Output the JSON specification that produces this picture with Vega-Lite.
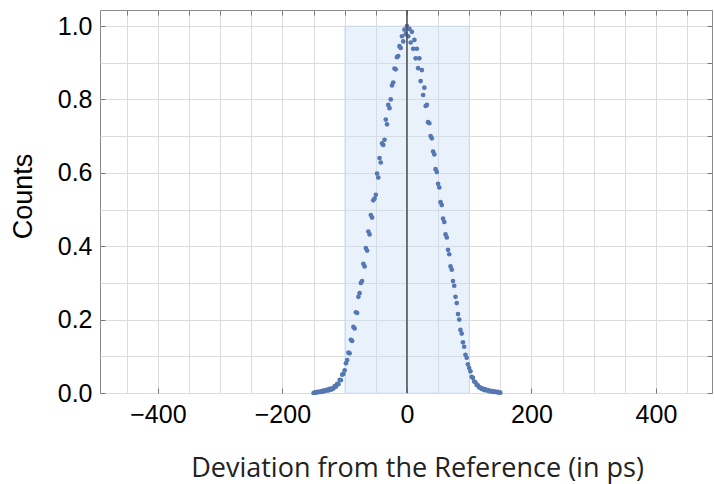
{
  "$schema": "https://vega.github.io/schema/vega-lite/v6.json",
  "width": 612,
  "height": 383,
  "autosize": {"type": "none"},
  "padding": {"left": 100, "top": 10, "right": 2, "bottom": 91},
  "background": "white",
  "config": {
    "view": {"stroke": "#8a8a8a", "strokeWidth": 1},
    "axis": {
      "labelFont": "Liberation Sans",
      "labelFontSize": 25,
      "labelColor": "#000000",
      "labelOverlap": false,
      "gridColor": "#dcdcdc",
      "gridWidth": 1,
      "domain": false,
      "tickColor": "#777777",
      "titleColor": "#000000",
      "titleFontWeight": "normal"
    }
  },
  "datasets": {
    "pts": [
      {"dev": -150, "counts": 0.000}, {"dev": -148, "counts": 0.002}, {"dev": -146, "counts": 0.001}, {"dev": -144, "counts": 0.003},
      {"dev": -142, "counts": 0.002}, {"dev": -140, "counts": 0.004}, {"dev": -138, "counts": 0.003}, {"dev": -136, "counts": 0.006},
      {"dev": -134, "counts": 0.004}, {"dev": -132, "counts": 0.007}, {"dev": -130, "counts": 0.006}, {"dev": -128, "counts": 0.009},
      {"dev": -126, "counts": 0.007}, {"dev": -124, "counts": 0.011}, {"dev": -122, "counts": 0.009}, {"dev": -120, "counts": 0.013},
      {"dev": -118, "counts": 0.012}, {"dev": -116, "counts": 0.019}, {"dev": -114, "counts": 0.017}, {"dev": -112, "counts": 0.025},
      {"dev": -110, "counts": 0.024}, {"dev": -108, "counts": 0.036}, {"dev": -106, "counts": 0.035}, {"dev": -104, "counts": 0.050},
      {"dev": -102, "counts": 0.052}, {"dev": -100, "counts": 0.062}, {"dev": -98, "counts": 0.081}, {"dev": -96, "counts": 0.090},
      {"dev": -94, "counts": 0.110}, {"dev": -92, "counts": 0.108}, {"dev": -90, "counts": 0.145}, {"dev": -88, "counts": 0.142},
      {"dev": -86, "counts": 0.180}, {"dev": -84, "counts": 0.176}, {"dev": -82, "counts": 0.220}, {"dev": -80, "counts": 0.218},
      {"dev": -78, "counts": 0.262}, {"dev": -76, "counts": 0.272}, {"dev": -74, "counts": 0.300}, {"dev": -72, "counts": 0.305},
      {"dev": -70, "counts": 0.352}, {"dev": -68, "counts": 0.345}, {"dev": -66, "counts": 0.395}, {"dev": -64, "counts": 0.388},
      {"dev": -62, "counts": 0.440}, {"dev": -60, "counts": 0.432}, {"dev": -58, "counts": 0.485}, {"dev": -56, "counts": 0.478},
      {"dev": -54, "counts": 0.525}, {"dev": -52, "counts": 0.530}, {"dev": -50, "counts": 0.540}, {"dev": -48, "counts": 0.598},
      {"dev": -46, "counts": 0.587}, {"dev": -44, "counts": 0.640}, {"dev": -42, "counts": 0.628}, {"dev": -40, "counts": 0.680},
      {"dev": -38, "counts": 0.676}, {"dev": -36, "counts": 0.690}, {"dev": -34, "counts": 0.745}, {"dev": -32, "counts": 0.732},
      {"dev": -30, "counts": 0.785}, {"dev": -28, "counts": 0.776}, {"dev": -26, "counts": 0.800}, {"dev": -24, "counts": 0.838},
      {"dev": -22, "counts": 0.846}, {"dev": -20, "counts": 0.884}, {"dev": -18, "counts": 0.882}, {"dev": -16, "counts": 0.915},
      {"dev": -14, "counts": 0.918}, {"dev": -12, "counts": 0.945}, {"dev": -10, "counts": 0.940}, {"dev": -8, "counts": 0.972},
      {"dev": -6, "counts": 0.958}, {"dev": -4, "counts": 0.990}, {"dev": -2, "counts": 0.978}, {"dev": 0, "counts": 1.000},
      {"dev": 2, "counts": 0.972}, {"dev": 4, "counts": 0.992}, {"dev": 6, "counts": 0.955}, {"dev": 8, "counts": 0.984},
      {"dev": 10, "counts": 0.938}, {"dev": 12, "counts": 0.962}, {"dev": 14, "counts": 0.912}, {"dev": 16, "counts": 0.938},
      {"dev": 18, "counts": 0.885}, {"dev": 20, "counts": 0.912}, {"dev": 22, "counts": 0.850}, {"dev": 24, "counts": 0.880},
      {"dev": 26, "counts": 0.812}, {"dev": 28, "counts": 0.832}, {"dev": 30, "counts": 0.782}, {"dev": 32, "counts": 0.785},
      {"dev": 34, "counts": 0.738}, {"dev": 36, "counts": 0.735}, {"dev": 38, "counts": 0.700}, {"dev": 40, "counts": 0.694},
      {"dev": 42, "counts": 0.658}, {"dev": 44, "counts": 0.650}, {"dev": 46, "counts": 0.610}, {"dev": 48, "counts": 0.602},
      {"dev": 50, "counts": 0.570}, {"dev": 52, "counts": 0.560}, {"dev": 54, "counts": 0.520}, {"dev": 56, "counts": 0.512},
      {"dev": 58, "counts": 0.475}, {"dev": 60, "counts": 0.466}, {"dev": 62, "counts": 0.432}, {"dev": 64, "counts": 0.424},
      {"dev": 66, "counts": 0.390}, {"dev": 68, "counts": 0.378}, {"dev": 70, "counts": 0.345}, {"dev": 72, "counts": 0.336},
      {"dev": 74, "counts": 0.305}, {"dev": 76, "counts": 0.292}, {"dev": 78, "counts": 0.262}, {"dev": 80, "counts": 0.245},
      {"dev": 82, "counts": 0.215}, {"dev": 84, "counts": 0.200}, {"dev": 86, "counts": 0.172}, {"dev": 88, "counts": 0.162},
      {"dev": 90, "counts": 0.138}, {"dev": 92, "counts": 0.126}, {"dev": 94, "counts": 0.104}, {"dev": 96, "counts": 0.096},
      {"dev": 98, "counts": 0.078}, {"dev": 100, "counts": 0.068}, {"dev": 102, "counts": 0.059}, {"dev": 104, "counts": 0.044},
      {"dev": 106, "counts": 0.041}, {"dev": 108, "counts": 0.031}, {"dev": 110, "counts": 0.029}, {"dev": 112, "counts": 0.022},
      {"dev": 114, "counts": 0.021}, {"dev": 116, "counts": 0.015}, {"dev": 118, "counts": 0.015}, {"dev": 120, "counts": 0.011},
      {"dev": 122, "counts": 0.012}, {"dev": 124, "counts": 0.008}, {"dev": 126, "counts": 0.010}, {"dev": 128, "counts": 0.007},
      {"dev": 130, "counts": 0.008}, {"dev": 132, "counts": 0.005}, {"dev": 134, "counts": 0.006}, {"dev": 136, "counts": 0.004},
      {"dev": 138, "counts": 0.005}, {"dev": 140, "counts": 0.003}, {"dev": 142, "counts": 0.004}, {"dev": 144, "counts": 0.002},
      {"dev": 146, "counts": 0.003}, {"dev": 148, "counts": 0.001}, {"dev": 150, "counts": 0.001}
    ],
    "band": [{"lo": -100, "hi": 100, "bottom": 0, "top": 1.0}],
    "zero": [{"dev": 0}]
  },
  "resolve": {"axis": {"x": "independent", "y": "independent"}},
  "layer": [
    {
      "data": {"name": "band"},
      "mark": {"type": "rect", "fill": "#c9ddf3", "fillOpacity": 0.4, "stroke": "#c9ddf3", "strokeOpacity": 0.6, "strokeWidth": 1},
      "encoding": {
        "x": {
          "field": "lo", "type": "quantitative",
          "scale": {"domain": [-493, 490], "nice": false, "zero": false},
          "axis": {
            "orient": "top",
            "values": [-450, -400, -350, -300, -250, -200, -150, -100, -50, 0, 50, 100, 150, 200, 250, 300, 350, 400, 450],
            "grid": true,
            "labels": false,
            "ticks": true,
            "tickSize": -5,
            "title": null
          }
        },
        "x2": {"field": "hi"},
        "y": {
          "field": "bottom", "type": "quantitative",
          "scale": {"domain": [0, 1.0436], "nice": false, "zero": false},
          "axis": {
            "orient": "right",
            "values": [0, 0.1, 0.2, 0.3, 0.4, 0.5, 0.6, 0.7, 0.8, 0.9, 1.0],
            "grid": true,
            "labels": false,
            "ticks": true,
            "tickSize": -5,
            "title": null
          }
        },
        "y2": {"field": "top"}
      }
    },
    {
      "data": {"name": "pts"},
      "mark": {"type": "point", "filled": true, "size": 22, "color": "#5577b3", "opacity": 1},
      "encoding": {
        "x": {
          "field": "dev", "type": "quantitative",
          "axis": {
            "orient": "bottom",
            "values": [-400, -200, 0, 200, 400],
            "grid": false,
            "ticks": true,
            "tickSize": -5,
            "labelPadding": 14,
            "labelFlush": false,
            "title": "Deviation from the Reference (in ps)",
            "titleFont": "Open Sans",
            "titleFontSize": 27,
            "titleColor": "#222222",
            "titlePadding": 28,
            "titleX": 317
          }
        },
        "y": {
          "field": "counts", "type": "quantitative",
          "axis": {
            "orient": "left",
            "values": [0, 0.2, 0.4, 0.6, 0.8, 1.0],
            "format": ".1f",
            "grid": false,
            "ticks": true,
            "tickSize": -5,
            "labelPadding": 13,
            "labelFlush": false,
            "title": "Counts",
            "titleFont": "Liberation Sans",
            "titleFontSize": 27,
            "titlePadding": 20,
            "titleY": 186
          }
        }
      }
    },
    {
      "data": {"name": "zero"},
      "mark": {"type": "rule", "color": "#4a4a4a", "strokeWidth": 1.5},
      "encoding": {
        "x": {"field": "dev", "type": "quantitative", "axis": null}
      }
    }
  ]
}
